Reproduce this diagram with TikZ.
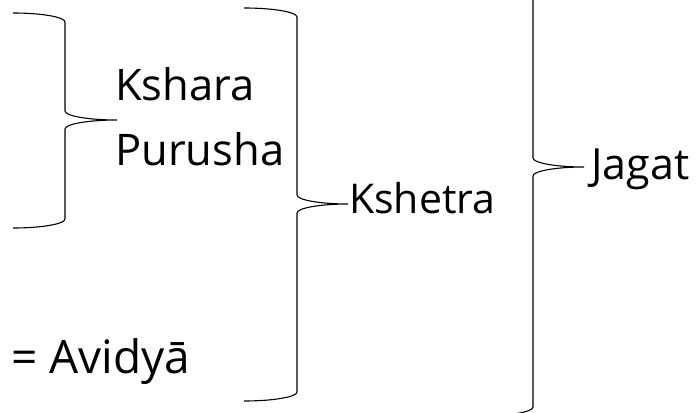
\documentclass[tikz,border=0pt]{standalone}
\usepackage{fontspec}
\setmainfont{Open Sans}
\usetikzlibrary{calc}

\begin{document}
\begin{tikzpicture}[x=1pt,y=-1pt,every node/.style={inner sep=0pt,anchor=base west},
  lbl/.style={font=\fontsize{#1}{#1}\selectfont}]

\useasboundingbox (0,0) rectangle (698,412);
\clip (0,0) rectangle (698,412);

\def\kArc{0.55}
\def\armR{9}

% draw the braces (left end, stem, tip / top, tip, bottom)
\foreach \xl/\xm/\xt/\yt/\yc/\yb [count=\ni] in {13/65/117/13/120/228, 244/297/348/8/204/401, 481/533/584/-82/167/416}
{
\coordinate (tip\ni) at (\xt,\yc);
\draw [line width=1.1pt] (\xl,\yt) .. controls ({\xl+\kArc*(\xm-\xl)},\yt) and (\xm,{\yt+\armR*(1-\kArc)}) .. (\xm,{\yt+\armR})
  -- (\xm,{\yc-\armR}) .. controls (\xm,{\yc-\armR*(1-\kArc)}) and ({\xt-\kArc*(\xt-\xm)},\yc) .. (tip\ni)
  .. controls ({\xt-\kArc*(\xt-\xm)},\yc) and (\xm,{\yc+\armR*(1-\kArc)}) .. (\xm,{\yc+\armR})
  -- (\xm,{\yb-\armR}) .. controls (\xm,{\yb-\armR*(1-\kArc)}) and ({\xl+\kArc*(\xm-\xl)},\yb) .. (\xl,\yb);
}

% the labels
\node [lbl=43.5] (kshara) at (115,100) {Kshara};
\node [lbl=43.5] (purusha) at (115,165) {Purusha};
\node [lbl=41] (kshetra) at (349,213) {Kshetra};
\node [lbl=43] (jagat) at (591,179) {Jagat};
\node [lbl=46] (avidya) at (11,373) {= Avidyā};

\end{tikzpicture}
\end{document}
